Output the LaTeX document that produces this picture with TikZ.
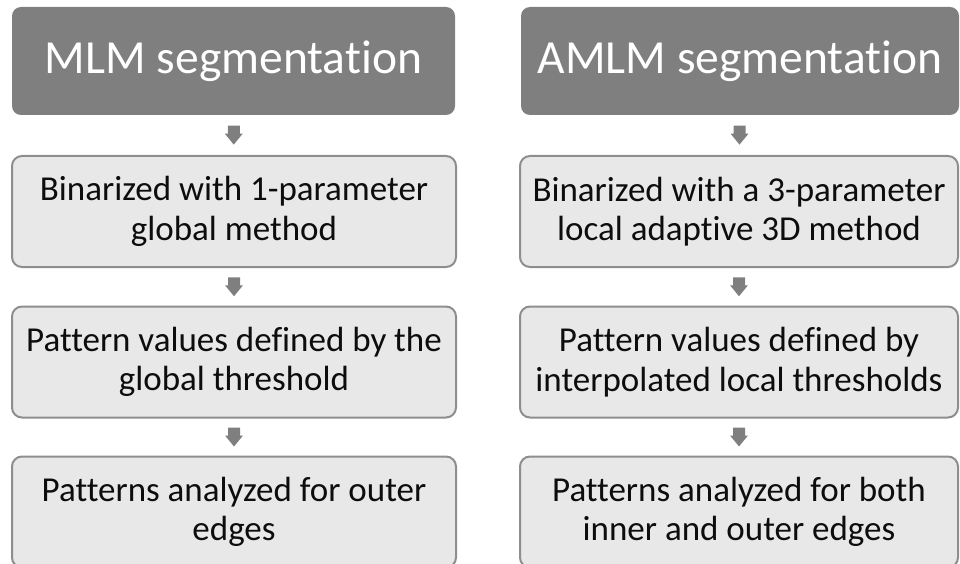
\documentclass[tikz,border=0pt]{standalone}
\usepackage{fontspec}
\setmainfont[Ligatures={NoCommon}]{Carlito}
\usetikzlibrary{calc}
\definecolor{hdrgray}{HTML}{7F7F7F}
\definecolor{boxfill}{HTML}{E8E8E8}
\definecolor{boxline}{HTML}{8E8E8E}
\definecolor{txtcol}{HTML}{0D0D0D}
\newcommand\blockarr[2]{\fill[hdrgray] ($(#1.south)!0.5!(#2.north)$) +(-6,-9.5) -- +(6,-9.5) -- +(6,-1.5) -- +(9,-1.5) -- +(0,9.5) -- +(-9,-1.5) -- +(-6,-1.5) -- cycle;}
\begin{document}
\begin{tikzpicture}[x=1pt,y=-1pt,
  hdr/.style={fill=hdrgray, rounded corners=9pt, text=white, font=\fontsize{47.5}{55}\selectfont, inner sep=0pt, minimum height=108pt},
  stepbox/.style={fill=boxfill, draw=boxline, line width=2pt, rounded corners=10pt, text=txtcol, font=\fontsize{35}{39.5}\selectfont, align=center, inner sep=0pt, minimum height=111pt},
  leftcol/.style={minimum width=444pt},
  rightcol/.style={minimum width=438pt}]
\useasboundingbox (0,0) rectangle (960,564);
% left column
\node[hdr, minimum width=443pt] (h1) at (233.5,61) {MLM segmentation};
\node[stepbox, leftcol] (l1) at (234,211.5) {Binarized with 1-parameter\\global method};
\node[stepbox, leftcol] (l2) at (234,362) {Pattern values defined by the\\global threshold};
\node[stepbox, leftcol] (l3) at (234,512) {Patterns analyzed for outer\\edges};
% right column
\node[hdr, minimum width=438pt] (h2) at (740,61) {AMLM segmentation};
\node[stepbox, rightcol] (r1) at (739,211.5) {Binarized with a 3-parameter\\local adaptive 3D method};
\node[stepbox, rightcol] (r2) at (739,362) {Pattern values defined by\\interpolated local thresholds};
\node[stepbox, rightcol] (r3) at (739,512) {Patterns analyzed for both\\inner and outer edges};
% arrows
\blockarr{h1}{l1}
\blockarr{l1}{l2}
\blockarr{l2}{l3}
\blockarr{h2}{r1}
\blockarr{r1}{r2}
\blockarr{r2}{r3}
\end{tikzpicture}
\end{document}
